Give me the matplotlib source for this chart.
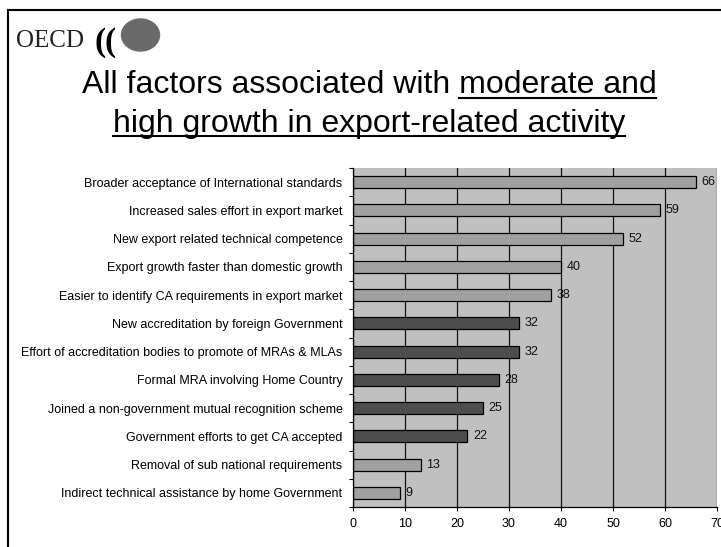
import matplotlib
matplotlib.use("Agg")
import matplotlib.pyplot as plt
from matplotlib.patches import Ellipse
from matplotlib.lines import Line2D
import numpy as np

categories = [
    "Broader acceptance of International standards",
    "Increased sales effort in export market",
    "New export related technical competence",
    "Export growth faster than domestic growth",
    "Easier to identify CA requirements in export market",
    "New accreditation by foreign Government",
    "Effort of accreditation bodies to promote of MRAs & MLAs",
    "Formal MRA involving Home Country",
    "Joined a non-government mutual recognition scheme",
    "Government efforts to get CA accepted",
    "Removal of sub national requirements",
    "Indirect technical assistance by home Government",
]
values = [66, 59, 52, 40, 38, 32, 32, 28, 25, 22, 13, 9]
groups = ["light", "light", "light", "light", "light", "dark", "dark", "dark", "dark", "dark", "light", "light"]
x_ticks = [0, 10, 20, 30, 40, 50, 60, 70]
title_plain = "All factors associated with "
title_under1 = "moderate and"
title_under2 = "high growth in export-related activity"

colors = {"light": "#a0a0a0", "dark": "#4d4d4d"}

plt.rcParams['font.family'] = ['Liberation Sans', 'DejaVu Sans']

W, H = 721, 547
fig = plt.figure(figsize=(W / 100, H / 100), dpi=100)

def fx(px):
    return px / W

def fy(py):
    return 1 - py / H

FS = 9

ax = fig.add_axes([fx(353), fy(507), fx(717) - fx(353), fy(168) - fy(507)])
ax.set_facecolor("#c0c0c0")

ypos = np.arange(len(categories))
ax.barh(ypos, values, height=0.42, color=[colors[g] for g in groups],
        edgecolor="black", linewidth=0.9, zorder=3)
for y, v in zip(ypos, values):
    ax.annotate(str(v), (v, y), xytext=(4, 0), textcoords="offset points",
                ha="left", va="center", fontsize=FS, color="#111111", zorder=4)

ax.set_ylim(len(categories) - 0.5, -0.5)
ax.set_xlim(0, 70)
ax.set_xticks(x_ticks)
ax.set_xticklabels([str(t) for t in x_ticks], fontsize=FS)
ax.set_yticks(ypos)
ax.set_yticklabels(categories, fontsize=FS)
ax.set_yticks(np.arange(-0.5, len(categories), 1.0), minor=True)
ax.tick_params(axis="y", which="major", length=0, pad=7.5)
ax.tick_params(axis="y", which="minor", length=3, direction="out", width=0.8)
ax.tick_params(axis="x", which="major", length=3, direction="out", width=0.8, pad=5)
ax.xaxis.grid(True, color="#111111", linewidth=0.9, zorder=1)
ax.set_axisbelow(True)
for s in ["top", "right"]:
    ax.spines[s].set_visible(False)
for s in ["left", "bottom"]:
    ax.spines[s].set_linewidth(0.9)
    ax.spines[s].set_zorder(5)

# border around slide
fig.add_artist(Line2D([fx(7.5), fx(7.5)], [fy(9.5), 0], color="black", lw=1.5))
fig.add_artist(Line2D([fx(7.5), 1], [fy(9.5), fy(9.5)], color="black", lw=1.5))

# OECD logo
fig.text(fx(16), fy(47), "OECD", family=["Liberation Serif", "DejaVu Serif"],
         fontsize=18, color="#222222", ha="left", va="baseline")
fig.add_artist(Ellipse((fx(140.5), fy(35)), width=fx(38), height=32 / H,
                       color="#6a6a6a", transform=fig.transFigure))
for px in (94, 104):
    fig.text(fx(px), fy(51), "(", family=["Liberation Serif"], fontsize=24,
             fontweight="bold", color="black", ha="left", va="baseline")

# title
fig.canvas.draw()
r = fig.canvas.get_renderer()
TFS = 23
t1 = fig.text(fx(369), fy(93), title_plain + title_under1, fontsize=TFS,
              ha="center", va="baseline", color="black")
t2 = fig.text(fx(369), fy(132), title_under2, fontsize=TFS,
              ha="center", va="baseline", color="black")
tmp = fig.text(0, 0, title_under1, fontsize=TFS)
e1 = t1.get_window_extent(r)
es = tmp.get_window_extent(r)
tmp.remove()
e2 = t2.get_window_extent(r)
ul_x0 = e1.x1 - es.width
fig.add_artist(Line2D([ul_x0 / W, e1.x1 / W], [fy(97.5), fy(97.5)], color="black", lw=1.5))
fig.add_artist(Line2D([e2.x0 / W, e2.x1 / W], [fy(136), fy(136)], color="black", lw=1.5))

fig.savefig("out.png", dpi=100)
